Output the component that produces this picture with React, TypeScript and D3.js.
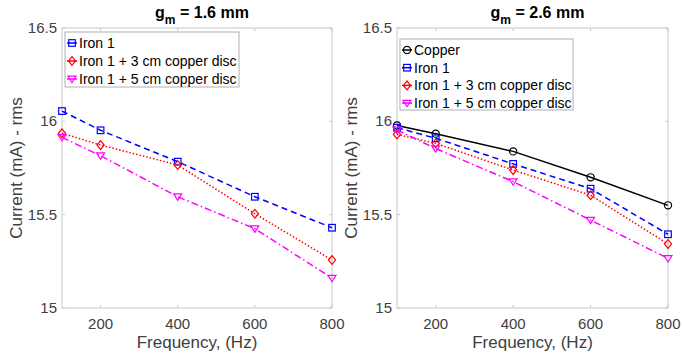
import React from "react";
import * as d3 from "d3";

const freqs = [100, 200, 400, 600, 800];
const xTicks = [200, 400, 600, 800];
const yTicks = [15, 15.5, 16, 16.5];

const iron1Left = [16.055, 15.952, 15.784, 15.596, 15.43];
const cu3Left = [15.936, 15.873, 15.766, 15.505, 15.257];
const cu5Left = [15.914, 15.816, 15.596, 15.425, 15.16];

const copperRight = [15.978, 15.934, 15.839, 15.7, 15.55];
const iron1Right = [15.966, 15.909, 15.772, 15.639, 15.395];
const cu3Right = [15.93, 15.882, 15.739, 15.604, 15.343];
const cu5Right = [15.954, 15.854, 15.677, 15.471, 15.266];

const titlesGap = ["1.6", "2.6"];

type Marker = "circle" | "square" | "diamond" | "tri";
interface Series {
  name: string;
  values: number[];
  color: string;
  dash: string;
  marker: Marker;
}

const S_COPPER = { name: "Copper", color: "#000000", dash: "none", marker: "circle" as Marker };
const S_IRON = { name: "Iron 1", color: "#0000ff", dash: "6,4", marker: "square" as Marker };
const S_CU3 = { name: "Iron 1 + 3 cm copper disc", color: "#ff0000", dash: "1.5,2", marker: "diamond" as Marker };
const S_CU5 = { name: "Iron 1 + 5 cm copper disc", color: "#ff00ff", dash: "7,3,1.5,3", marker: "tri" as Marker };

const leftSeries: Series[] = [
  { ...S_IRON, values: iron1Left },
  { ...S_CU3, values: cu3Left },
  { ...S_CU5, values: cu5Left },
];
const rightSeries: Series[] = [
  { ...S_COPPER, values: copperRight },
  { ...S_IRON, values: iron1Right },
  { ...S_CU3, values: cu3Right },
  { ...S_CU5, values: cu5Right },
];

const FONT = "'Liberation Sans', Arial, Helvetica, sans-serif";
const AX = "#c8c8c8";
const TXT = "#404040";

function MarkerShape({ m, x, y, c }: { m: Marker; x: number; y: number; c: string }) {
  const sw = 1.2;
  if (m === "circle") return <circle cx={x} cy={y} r={3.6} fill="none" stroke={c} strokeWidth={sw} />;
  if (m === "square") return <rect x={x - 3.3} y={y - 3.3} width={6.6} height={6.6} fill="none" stroke={c} strokeWidth={sw} />;
  if (m === "diamond")
    return <path d={`M${x},${y - 4.4}L${x + 3.6},${y}L${x},${y + 4.4}L${x - 3.6},${y}Z`} fill="none" stroke={c} strokeWidth={sw} />;
  return <path d={`M${x - 4},${y - 2.8}L${x + 4},${y - 2.8}L${x},${y + 3.6}Z`} fill="none" stroke={c} strokeWidth={sw} />;
}

function Panel({ left, right, series, gap, legendBox }: {
  left: number; right: number; series: Series[]; gap: string;
  legendBox: { x: number; y: number; w: number; h: number; step: number };
}) {
  const top = 28, bottom = 308;
  const x = d3.scaleLinear().domain([100, 800]).range([left, right]);
  const y = d3.scaleLinear().domain([15, 16.5]).range([bottom, top]);
  const line = d3.line<number>().x((_, i) => x(freqs[i])).y((v) => y(v));
  const cx = (left + right) / 2;
  return (
    <g>
      <rect x={left} y={top} width={right - left} height={bottom - top} fill="#fff" stroke={AX} strokeWidth={1} />
      {xTicks.map((t) => (
        <g key={"xt" + t}>
          <line x1={x(t)} x2={x(t)} y1={bottom} y2={bottom - 3} stroke={AX} />
          <line x1={x(t)} x2={x(t)} y1={top} y2={top + 3} stroke={AX} />
          <text x={x(t)} y={329} textAnchor="middle" fontSize={15} fill={TXT} fontFamily={FONT}>{t}</text>
        </g>
      ))}
      {yTicks.map((t) => (
        <g key={"yt" + t}>
          <line x1={left} x2={left + 3} y1={y(t)} y2={y(t)} stroke={AX} />
          <line x1={right} x2={right - 3} y1={y(t)} y2={y(t)} stroke={AX} />
          <text x={left - 5} y={y(t) + 5} textAnchor="end" fontSize={15} fill={TXT} fontFamily={FONT}>{t}</text>
        </g>
      ))}
      <text x={cx} y={348} textAnchor="middle" fontSize={17} fill={TXT} fontFamily={FONT}>Frequency, (Hz)</text>
      <text transform={`translate(${left - 40},168) rotate(-90)`} textAnchor="middle" fontSize={17} fill={TXT} fontFamily={FONT}>Current (mA) - rms</text>
      <text x={cx + 5} y={18} textAnchor="middle" fontSize={16} fontWeight="bold" fill="#000" fontFamily={FONT}>
        g<tspan dy={6} fontSize={12}>m</tspan><tspan dy={-6}>{` = ${gap} mm`}</tspan>
      </text>
      {series.map((s) => (
        <g key={s.name}>
          <path d={line(s.values) || ""} fill="none" stroke={s.color} strokeWidth={1.5} strokeDasharray={s.dash} />
          {s.values.map((v, i) => (
            <MarkerShape key={i} m={s.marker} x={x(freqs[i])} y={y(v)} c={s.color} />
          ))}
        </g>
      ))}
      <rect x={legendBox.x} y={legendBox.y} width={legendBox.w} height={legendBox.h} fill="#fff" stroke="#b0b0b0" strokeWidth={1} />
      {series.map((s, i) => {
        const ly = legendBox.y + 11 + i * legendBox.step;
        return (
          <g key={"lg" + s.name}>
            <line x1={legendBox.x + 2} x2={legendBox.x + 12} y1={ly} y2={ly} stroke={s.color} strokeWidth={1.5} />
            <MarkerShape m={s.marker} x={legendBox.x + 7} y={ly} c={s.color} />
            <text x={legendBox.x + 14} y={ly + 5} fontSize={14} fill="#000" fontFamily={FONT}>{s.name}</text>
          </g>
        );
      })}
    </g>
  );
}

export default function App() {
  return (
    <svg width={682} height={353} style={{ position: "absolute", left: 0, top: 0, background: "#fff" }}>
      <rect width={682} height={353} fill="#fff" />
      <Panel left={62} right={332} series={leftSeries} gap={titlesGap[0]}
        legendBox={{ x: 65, y: 32, w: 174, h: 55, step: 18 }} />
      <Panel left={397} right={668} series={rightSeries} gap={titlesGap[1]}
        legendBox={{ x: 400, y: 39, w: 173, h: 71, step: 17.7 }} />
    </svg>
  );
}
